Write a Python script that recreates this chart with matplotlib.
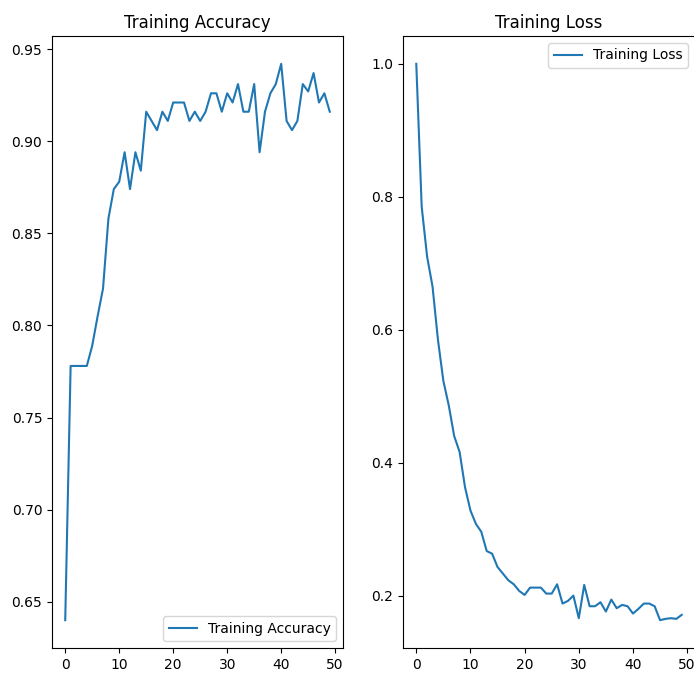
import matplotlib
matplotlib.use("Agg")
import matplotlib.pyplot as plt

epochs = list(range(50))

acc = [0.640, 0.778, 0.778, 0.778, 0.778, 0.789, 0.805, 0.820, 0.858, 0.874,
       0.878, 0.894, 0.874, 0.894, 0.884, 0.916, 0.911, 0.906, 0.916, 0.911,
       0.921, 0.921, 0.921, 0.911, 0.916, 0.911, 0.916, 0.926, 0.926, 0.916,
       0.926, 0.921, 0.931, 0.916, 0.916, 0.931, 0.894, 0.916, 0.926, 0.931,
       0.942, 0.911, 0.906, 0.911, 0.931, 0.927, 0.937, 0.921, 0.926, 0.916]

loss = [1.000, 0.785, 0.710, 0.665, 0.585, 0.523, 0.486, 0.440, 0.416, 0.363,
        0.328, 0.308, 0.296, 0.267, 0.263, 0.243, 0.233, 0.223, 0.217, 0.207,
        0.201, 0.212, 0.212, 0.212, 0.203, 0.203, 0.217, 0.188, 0.192, 0.200,
        0.166, 0.216, 0.184, 0.184, 0.190, 0.176, 0.194, 0.181, 0.186, 0.184,
        0.173, 0.180, 0.188, 0.188, 0.184, 0.163, 0.165, 0.166, 0.165, 0.171]

W, H = 694, 673
fig = plt.figure(figsize=(W / 100, H / 100), dpi=100)

# axes placed by pixel to match the cropped notebook output
ax1 = fig.add_axes([52 / W, 25 / H, 291 / W, 612 / H])
ax1.plot(epochs, acc, label="Training Accuracy")
ax1.legend(loc="lower right")
ax1.set_title("Training Accuracy")

ax2 = fig.add_axes([403 / W, 25 / H, 292 / W, 612 / H])
ax2.plot(epochs, loss, label="Training Loss")
ax2.legend(loc="upper right")
ax2.set_title("Training Loss")

fig.savefig("out.png", dpi=100)
